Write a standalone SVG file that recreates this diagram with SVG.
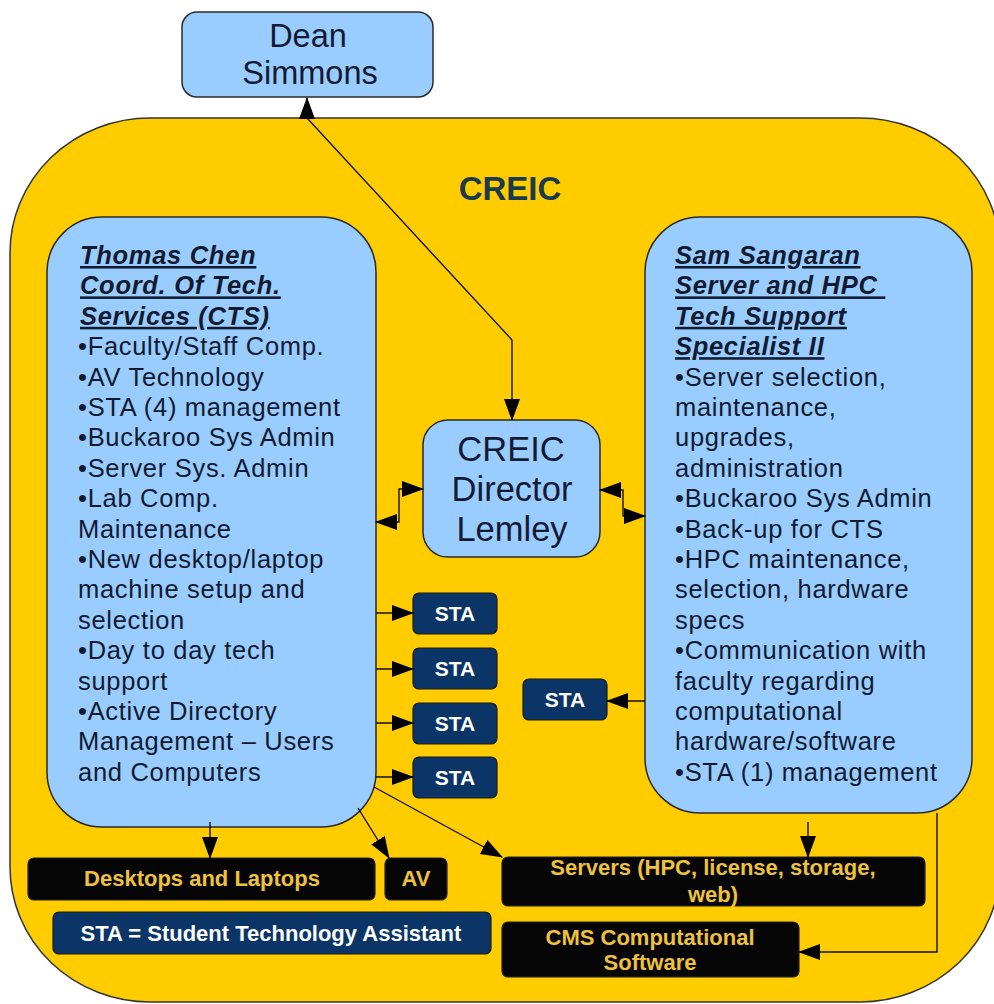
<svg xmlns="http://www.w3.org/2000/svg" width="994" height="1004" viewBox="0 0 994 1004">
<defs>
<marker id="ah" markerUnits="userSpaceOnUse" markerWidth="22" markerHeight="16" refX="21" refY="8" orient="auto-start-reverse" viewBox="0 0 22 16">
<path d="M0,0 L22,8 L0,16 z" fill="#000"/>
</marker>
<style>
.blue{fill:#99CCFF;stroke:#2a2a2a;stroke-width:1.5}
.navy{fill:#0B3566;stroke:#1a1a1a;stroke-width:1.2}
.blk{fill:#050505;stroke:#222;stroke-width:1.2}
.big{font-family:"Liberation Sans",Arial,sans-serif;font-size:34.5px;fill:#141a33}
.body{font-family:"Liberation Sans",Arial,sans-serif;font-size:25.5px;letter-spacing:0.7px;fill:#121a30}
.hdr{font-weight:bold;font-style:italic;text-decoration:underline;white-space:pre}
.sta{font-family:"Liberation Sans",Arial,sans-serif;font-size:21px;font-weight:bold;fill:#fff}
.leg{font-family:"Liberation Sans",Arial,sans-serif;font-size:22px;font-weight:bold;fill:#fff}
.yel{font-family:"Liberation Sans",Arial,sans-serif;font-size:22px;font-weight:bold;fill:#EEC23C}
.conn{fill:none;stroke:#111;stroke-width:1.4}
</style>
</defs>
<rect width="994" height="1004" fill="#fff"/>
<g id="creic">
<rect x="10" y="118" width="990" height="884" rx="140" ry="135" fill="#FFCC00" stroke="#333" stroke-width="1.5"/>
<text x="510" y="200" text-anchor="middle" font-family="Liberation Sans,Arial,sans-serif" font-size="33" font-weight="bold" fill="#1B3A4C">CREIC</text>
</g>
<g id="dean">
<rect class="blue" x="182" y="12" width="251" height="85" rx="15"/>
<text class="big" x="308" y="47" text-anchor="middle" style="font-size:32.5px">Dean</text>
<text class="big" x="310" y="84" text-anchor="middle" style="font-size:32.5px">Simmons</text>
</g>
<g id="chen">
<rect class="blue" x="47" y="217" width="329" height="610" rx="55"/>
<text class="body">
<tspan class="hdr" x="80" y="264">Thomas Chen</tspan>
<tspan class="hdr" x="80" dy="30.4">Coord. Of Tech.</tspan>
<tspan class="hdr" x="80" dy="30.4">Services (CTS)</tspan>
<tspan x="78" dy="30.4">•Faculty/Staff Comp.</tspan>
<tspan x="78" dy="30.4">•AV Technology</tspan>
<tspan x="78" dy="30.4">•STA (4) management</tspan>
<tspan x="78" dy="30.4">•Buckaroo Sys Admin</tspan>
<tspan x="78" dy="30.4">•Server Sys. Admin</tspan>
<tspan x="78" dy="30.4">•Lab Comp.</tspan>
<tspan x="78" dy="30.4">Maintenance</tspan>
<tspan x="78" dy="30.4">•New desktop/laptop</tspan>
<tspan x="78" dy="30.4">machine setup and</tspan>
<tspan x="78" dy="30.4">selection</tspan>
<tspan x="78" dy="30.4">•Day to day tech</tspan>
<tspan x="78" dy="30.4">support</tspan>
<tspan x="78" dy="30.4">•Active Directory</tspan>
<tspan x="78" dy="30.4">Management – Users</tspan>
<tspan x="78" dy="30.4">and Computers</tspan>
</text>
</g>
<g id="sam">
<rect class="blue" x="645" y="217" width="327" height="596" rx="55"/>
<text class="body">
<tspan class="hdr" x="675" y="264">Sam Sangaran</tspan>
<tspan class="hdr" x="675" dy="30.4">Server and HPC </tspan>
<tspan class="hdr" x="675" dy="30.4">Tech Support</tspan>
<tspan class="hdr" x="675" dy="30.4">Specialist II</tspan>
<tspan x="675" dy="30.4">•Server selection,</tspan>
<tspan x="675" dy="30.4">maintenance,</tspan>
<tspan x="675" dy="30.4">upgrades,</tspan>
<tspan x="675" dy="30.4">administration</tspan>
<tspan x="675" dy="30.4">•Buckaroo Sys Admin</tspan>
<tspan x="675" dy="30.4">•Back-up for CTS</tspan>
<tspan x="675" dy="30.4">•HPC maintenance,</tspan>
<tspan x="675" dy="30.4">selection, hardware</tspan>
<tspan x="675" dy="30.4">specs</tspan>
<tspan x="675" dy="30.4">•Communication with</tspan>
<tspan x="675" dy="30.4">faculty regarding</tspan>
<tspan x="675" dy="30.4">computational</tspan>
<tspan x="675" dy="30.4">hardware/software</tspan>
<tspan x="675" dy="30.4">•STA (1) management</tspan>
</text>
</g>
<g id="director">
<rect class="blue" x="423" y="420" width="177" height="137" rx="25"/>
<text class="big" x="511" y="461" text-anchor="middle">CREIC</text>
<text class="big" x="512" y="501" text-anchor="middle">Director</text>
<text class="big" x="512" y="541" text-anchor="middle">Lemley</text>
</g>
<g id="sta1"><rect class="navy" x="413" y="593" width="84" height="41" rx="6"/><text class="sta" x="455" y="621" text-anchor="middle">STA</text></g>
<g id="sta2"><rect class="navy" x="413" y="648" width="84" height="41" rx="6"/><text class="sta" x="455" y="676" text-anchor="middle">STA</text></g>
<g id="sta3"><rect class="navy" x="413" y="703" width="84" height="41" rx="6"/><text class="sta" x="455" y="731" text-anchor="middle">STA</text></g>
<g id="sta4"><rect class="navy" x="413" y="757" width="84" height="41" rx="6"/><text class="sta" x="455" y="785" text-anchor="middle">STA</text></g>
<g id="sta5"><rect class="navy" x="523" y="679" width="84" height="41" rx="6"/><text class="sta" x="565" y="707" text-anchor="middle">STA</text></g>
<g id="desktops"><rect class="blk" x="28" y="858" width="347" height="42" rx="6"/><text class="yel" x="202" y="886" text-anchor="middle">Desktops and Laptops</text></g>
<g id="av"><rect class="blk" x="385" y="858" width="62" height="42" rx="6"/><text class="yel" x="416" y="886" text-anchor="middle">AV</text></g>
<g id="legend"><rect class="navy" x="53" y="912" width="438" height="42" rx="6"/><text class="leg" x="271" y="941" text-anchor="middle">STA = Student Technology Assistant</text></g>
<g id="servers"><rect class="blk" x="502" y="857" width="423" height="49" rx="6"/><text class="yel" x="713" y="875" text-anchor="middle">Servers (HPC, license, storage,</text><text class="yel" x="713" y="902" text-anchor="middle">web)</text></g>
<g id="cms"><rect class="blk" x="502" y="922" width="297" height="55" rx="6"/><text class="yel" x="650" y="945" text-anchor="middle">CMS Computational</text><text class="yel" x="650" y="970" text-anchor="middle">Software</text></g>
<g id="connectors">
<path class="conn" d="M512,340 L307,118 V98" marker-end="url(#ah)"/>
<path class="conn" d="M512,340 V420" marker-end="url(#ah)"/>
<path class="conn" d="M376,522 H399 V489 H423" marker-start="url(#ah)" marker-end="url(#ah)"/>
<path class="conn" d="M600,490 H623 V516 H645" marker-start="url(#ah)" marker-end="url(#ah)"/>
<path class="conn" d="M376,613 H413" marker-end="url(#ah)"/>
<path class="conn" d="M376,669 H413" marker-end="url(#ah)"/>
<path class="conn" d="M376,723 H413" marker-end="url(#ah)"/>
<path class="conn" d="M376,777 H413" marker-end="url(#ah)"/>
<path class="conn" d="M645,701 H607" marker-end="url(#ah)"/>
<path class="conn" d="M210,822 V858" marker-end="url(#ah)"/>
<path class="conn" d="M358,808 L389,858" marker-end="url(#ah)"/>
<path class="conn" d="M374,787 L502,857" marker-end="url(#ah)"/>
<path class="conn" d="M808,822 V857" marker-end="url(#ah)"/>
<path class="conn" d="M937,813 V952 H799" marker-end="url(#ah)"/>
</g>
</svg>
